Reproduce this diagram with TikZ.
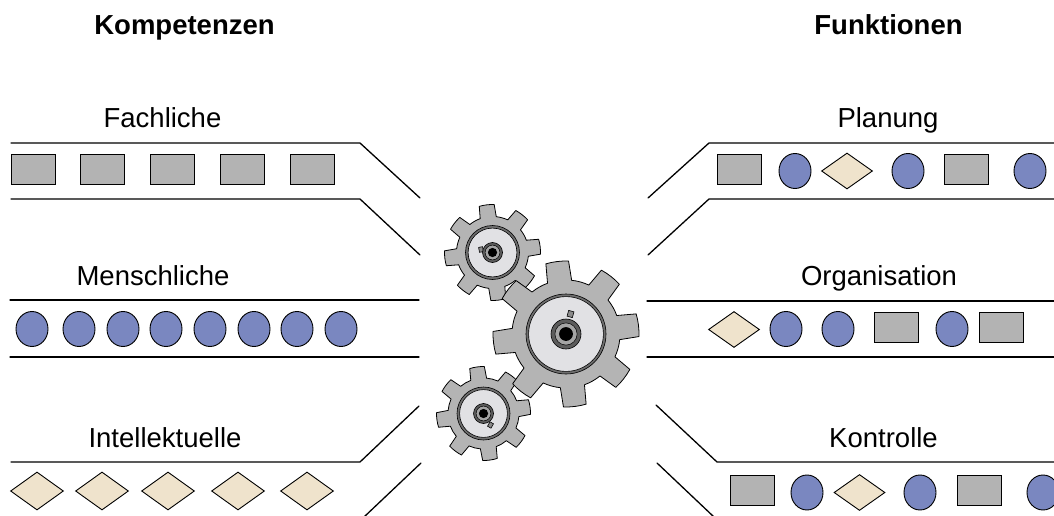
\documentclass[tikz,border=0pt]{standalone}
\usepackage{fontspec}
\setmainfont{Liberation Sans}
\usetikzlibrary{shapes.geometric,calc}

\definecolor{boxgray}{HTML}{B3B3B3}
\definecolor{dotblue}{HTML}{7A87C0}
\definecolor{diabeige}{HTML}{EFE3CC}
\definecolor{gearbody}{HTML}{B4B4B4}
\definecolor{gearface}{HTML}{E1E1E4}
\definecolor{gearring}{HTML}{6E6E6E}
\definecolor{hubdark}{HTML}{5C5C5C}
\definecolor{hublight}{HTML}{A4A4A4}
\definecolor{keygray}{HTML}{8A8A8A}

\tikzset{
  band/.style={line width=1.3pt, line cap=round},
  sq/.style={draw, line width=0.9pt, fill=boxgray, minimum width=44pt, minimum height=30pt, inner sep=0pt},
  dot/.style={draw, line width=0.9pt, fill=dotblue, ellipse, minimum width=32pt, minimum height=35pt, inner sep=0pt},
  dia/.style={draw, line width=0.9pt, fill=diabeige, diamond, minimum width=51pt, minimum height=36pt, inner sep=0pt},
  lbl/.style={anchor=base, inner sep=0pt, font=\fontsize{27.5}{32}\selectfont},
  head/.style={lbl, font=\fontsize{27.5}{32}\selectfont\bfseries},
  gearline/.style={draw=black, line width=0.8pt, line join=round},
  keybox/.style={draw=black, line width=0.6pt, fill=keygray, inner sep=0pt}
}

% gear outline: #1 centre, #2 tip radius, #3 root radius, #4 first tooth angle
\newcommand{\gearshape}[4]{%
  \path[gearline, fill=gearbody]
    ($(#1)+({#4-13}:#3)$)
    \foreach \a in {0,45,...,315} {
      -- ($(#1)+({#4+\a-13}:#3)$)
      -- ($(#1)+({#4+\a-9}:#2)$)
      arc[start angle={#4+\a-9}, end angle={#4+\a+9}, radius=#2]
      -- ($(#1)+({#4+\a+13}:#3)$)
      arc[start angle={#4+\a+13}, end angle={#4+\a+32}, radius=#3]
    } -- cycle;
}
% face disk with its ring: #1 centre, #2 ring radius
\newcommand{\gearface}[2]{%
  \path[gearline, line width=0.6pt, fill=gearring] (#1) circle[radius=#2];
  \path[gearline, line width=0.6pt, fill=gearface] (#1) circle[radius=#2-2.6pt];
}
% hub with bore: #1 centre, #2 hub radius
\newcommand{\gearhub}[2]{%
  \path[gearline, line width=0.6pt, fill=hubdark] (#1) circle[radius=#2];
  \path[gearline, line width=0.5pt, fill=hublight] (#1) circle[radius=0.74*#2];
  \path[fill=black] (#1) circle[radius=0.46*#2];
}

\begin{document}
\begin{tikzpicture}[x=1pt, y=-1pt]
\useasboundingbox (0,0) rectangle (1054,516);
\clip (0,0) rectangle (1054,516);

% headings
\node[head] (komp) at (184.5,35) {Kompetenzen};
\node[head] (funk) at (888.5,35) {Funktionen};

% ---- left: competences ----
\node[lbl] (fach) at (162.5,128) {Fachliche};
\draw[band] (11,143) -- (360,143) -- (420,198);
\draw[band] (11,199) -- (360,199) -- (420,255);
\foreach \x [count=\i] in {33,102.5,172.5,242,312}
  \node[sq] (f\i) at (\x,169) {};

\node[lbl] (mensch) at (153,285) {Menschliche};
\draw[band] (10,300) -- (419,300);
\draw[band] (10,357) -- (419,357);
\foreach \x [count=\i] in {32,79,123,166,210,254,297,341}
  \node[dot] (m\i) at (\x,329) {};

\node[lbl] (intel) at (165,447) {Intellektuelle};
\draw[band] (419,406) -- (360,462) -- (11,462);
\draw[band] (421,463) -- (364,517);
\foreach \x [count=\i] in {37,102,168,238,307}
  \node[dia, minimum width=53pt, minimum height=38pt] (i\i) at (\x,491) {};

% ---- right: functions ----
\node[lbl] (plan) at (888,128) {Planung};
\draw[band] (648,198) -- (709,143) -- (1055,143);
\draw[band] (648,255) -- (709,199) -- (1055,199);
\node[sq]  (p1) at (739,169) {};
\node[dot] (p2) at (795,171) {};
\node[dia] (p3) at (847,171) {};
\node[dot] (p4) at (908,171) {};
\node[sq]  (p5) at (966.5,169) {};
\node[dot] (p6) at (1030,171) {};

\node[lbl] (orga) at (879,285) {Organisation};
\draw[band] (647,301) -- (1055,301);
\draw[band] (647,357) -- (1055,357);
\node[dia] (o1) at (734,329.5) {};
\node[dot] (o2) at (786,329) {};
\node[dot] (o3) at (838,329) {};
\node[sq]  (o4) at (896.5,327.5) {};
\node[dot] (o5) at (952,329) {};
\node[sq]  (o6) at (1001,327.5) {};

\node[lbl] (kontr) at (883.5,447) {Kontrolle};
\draw[band] (656,405) -- (717,462) -- (1055,462);
\draw[band] (657,463) -- (714,517);
\node[sq]  (k1) at (752,490.5) {};
\node[dot] (k2) at (807,492.5) {};
\node[dia] (k3) at (859.5,492.5) {};
\node[dot] (k4) at (920,492.5) {};
\node[sq]  (k5) at (979.5,490.5) {};
\node[dot] (k6) at (1043,492.5) {};

% ---- gears ----
\coordinate (gA) at (492.5,252.5);
\coordinate (gB) at (483.5,413.5);
\coordinate (gC) at (566,334);

% small upper gear
\gearshape{gA}{48pt}{36pt}{7}
\gearface{gA}{27pt}
\node[keybox, minimum width=4pt, minimum height=5pt, rotate=10] (keyA) at (481,249.5) {};
\gearhub{gA}{10pt}

% small lower gear
\gearshape{gB}{47pt}{35.5pt}{8}
\gearface{gB}{26.5pt}
\node[keybox, minimum width=4pt, minimum height=5pt, rotate=-30] (keyB) at (490.5,425) {};
\gearhub{gB}{10pt}

% large gear
\gearshape{gC}{73pt}{54pt}{7}
\gearface{gC}{40pt}
\node[keybox, minimum width=5.5pt, minimum height=6pt, rotate=-15] (keyC) at (570.5,314) {};
\gearhub{gC}{15pt}

\end{tikzpicture}
\end{document}
